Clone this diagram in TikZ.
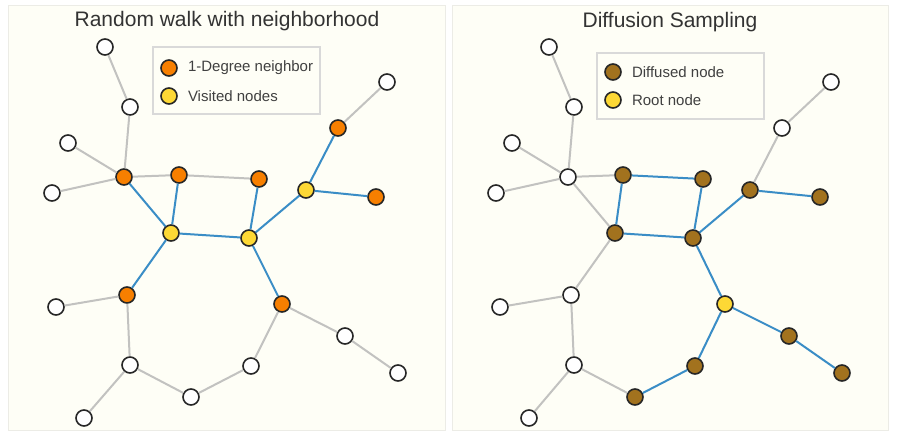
\documentclass[tikz,border=0pt]{standalone}
\usepackage{fontspec}
\setmainfont{Liberation Sans}
\usepackage{xcolor}
\usetikzlibrary{positioning}

\definecolor{paper}{HTML}{FEFEF6}
\definecolor{panelline}{HTML}{ECECE6}
\definecolor{walkblue}{HTML}{3A8DC6}
\definecolor{edgegray}{HTML}{C2C2C0}
\definecolor{nbrorange}{HTML}{F77F00}
\definecolor{rootyellow}{HTML}{FDD835}
\definecolor{diffbrown}{HTML}{A2721E}
\definecolor{inkgray}{HTML}{333333}

\tikzset{
  vtx/.style={circle,draw=black!85,line width=1.6pt,minimum size=16pt,inner sep=0pt,fill=white},
  nbr/.style={vtx,fill=nbrorange},
  visited/.style={vtx,fill=rootyellow},
  diffused/.style={vtx,fill=diffbrown},
  plain/.style={draw=edgegray,line width=2pt},
  walk/.style={draw=walkblue,line width=2pt},
  panel/.style={draw=panelline,fill=paper,line width=0.8pt},
  keybox/.style={draw=black!15,line width=1.2pt},
  keytext/.style={text=black!75,inner sep=0pt,font=\fontsize{15}{18}\selectfont},
  heading/.style={text=inkgray,font=\fontsize{21}{25}\selectfont}
}

\begin{document}
\begin{tikzpicture}[x=1pt,y=-1pt]
\useasboundingbox (0,0) rectangle (897,432);
\draw[panel] (8,5) rectangle (445,430);
\draw[panel] (452,5) rectangle (888,430);

% left: random walk
\node[heading] (lefttitle) at (227,21) {Random walk with neighborhood};
\draw[keybox] (153,47) rectangle (320,114);
\node[nbr] (keyL1) at (169,68) {};
\node[visited] (keyL2) at (169,96) {};
\node[keytext,right=10pt of keyL1] {1-Degree neighbor};
\node[keytext,right=10pt of keyL2] {Visited nodes};

\node[vtx] (La) at (105,47) {};
\node[vtx] (Lb) at (130,107) {};
\node[vtx] (Lc) at (68,143) {};
\node[vtx] (Ld) at (52,193) {};
\node[nbr] (Le) at (124,177) {};
\node[nbr] (Lf) at (179,175) {};
\node[nbr] (Lg) at (259,179) {};
\node[visited] (Lh) at (306,190) {};
\node[nbr] (Li) at (338,128) {};
\node[vtx] (Lj) at (387,82) {};
\node[nbr] (Lk) at (376,197) {};
\node[visited] (Ll) at (171,233) {};
\node[visited] (Lm) at (249,238) {};
\node[nbr] (Ln) at (127,295) {};
\node[vtx] (Lo) at (56,307) {};
\node[nbr] (Lp) at (282,304) {};
\node[vtx] (Lq) at (345,336) {};
\node[vtx] (Lr) at (398,373) {};
\node[vtx] (Ls) at (130,365) {};
\node[vtx] (Lt) at (191,397) {};
\node[vtx] (Lu) at (251,366) {};
\node[vtx] (Lv) at (84,418) {};

\draw[plain] (La)--(Lb) (Lb)--(Le) (Lc)--(Le) (Ld)--(Le) (Le)--(Lf) (Lf)--(Lg)
  (Li)--(Lj) (Ln)--(Lo) (Ln)--(Ls) (Ls)--(Lv) (Ls)--(Lt) (Lt)--(Lu) (Lu)--(Lp)
  (Lp)--(Lq) (Lq)--(Lr);
\draw[walk] (Le)--(Ll) (Lf)--(Ll) (Lg)--(Lm) (Ll)--(Lm) (Lm)--(Lh) (Lh)--(Li)
  (Lh)--(Lk) (Ll)--(Ln) (Lm)--(Lp);

% right: diffusion sampling
\node[heading] (righttitle) at (670,22) {Diffusion Sampling};
\draw[keybox] (597,53) rectangle (764,119);
\node[diffused] (keyR1) at (613,72) {};
\node[visited] (keyR2) at (613,100) {};
\node[keytext,right=10pt of keyR1] {Diffused node};
\node[keytext,right=10pt of keyR2] {Root node};

\begin{scope}[xshift=444pt]
\node[vtx] (Ra) at (105,47) {};
\node[vtx] (Rb) at (130,107) {};
\node[vtx] (Rc) at (68,143) {};
\node[vtx] (Rd) at (52,193) {};
\node[vtx] (Re) at (124,177) {};
\node[diffused] (Rf) at (179,175) {};
\node[diffused] (Rg) at (259,179) {};
\node[diffused] (Rh) at (306,190) {};
\node[vtx] (Ri) at (338,128) {};
\node[vtx] (Rj) at (387,82) {};
\node[diffused] (Rk) at (376,197) {};
\node[diffused] (Rl) at (171,233) {};
\node[diffused] (Rm) at (249,238) {};
\node[vtx] (Rn) at (127,295) {};
\node[vtx] (Ro) at (56,307) {};
\node[visited] (Rp) at (281,304) {};
\node[diffused] (Rq) at (345,336) {};
\node[diffused] (Rr) at (398,373) {};
\node[vtx] (Rs) at (130,365) {};
\node[diffused] (Rt) at (191,397) {};
\node[diffused] (Ru) at (251,366) {};
\node[vtx] (Rv) at (85,418) {};
\end{scope}

\draw[plain] (Ra)--(Rb) (Rb)--(Re) (Rc)--(Re) (Rd)--(Re) (Re)--(Rf) (Re)--(Rl)
  (Rh)--(Ri) (Ri)--(Rj) (Rl)--(Rn) (Rn)--(Ro) (Rn)--(Rs) (Rs)--(Rv) (Rs)--(Rt);
\draw[walk] (Rf)--(Rg) (Rf)--(Rl) (Rg)--(Rm) (Rl)--(Rm) (Rm)--(Rh) (Rh)--(Rk)
  (Rm)--(Rp) (Rp)--(Ru) (Ru)--(Rt) (Rp)--(Rq) (Rq)--(Rr);
\end{tikzpicture}
\end{document}
